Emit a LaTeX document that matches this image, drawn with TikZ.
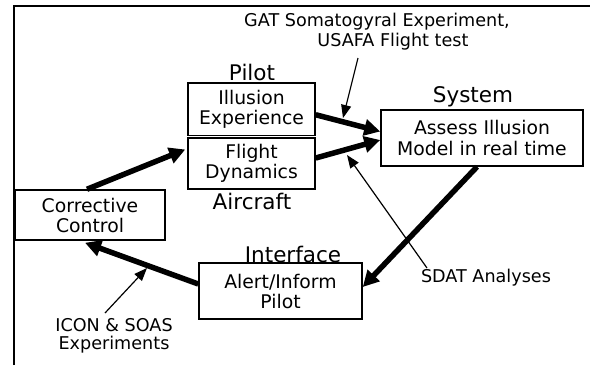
\documentclass[tikz,border=0pt]{standalone}
\usepackage{fontspec}
\setmainfont{DejaVu Sans}
\usetikzlibrary{arrows.meta}
\begin{document}
\begin{tikzpicture}[x=1pt,y=-1pt,
  blk/.style={draw,line width=1.5pt,inner sep=0pt,align=center,
    font=\fontsize{18.8}{20}\selectfont},
  lbl/.style={inner sep=0pt,font=\fontsize{21.5}{22}\selectfont},
  note/.style={inner sep=0pt,align=center,font=\fontsize{17.6}{20}\selectfont},
  thick arrow/.style={line width=5.5pt,-{Triangle[length=16pt,width=16pt]}},
  thin arrow/.style={line width=1.2pt,-{Triangle[length=13pt,width=10pt]}}]
\useasboundingbox (0,0) rectangle (590,365);
\draw[line width=1.5pt] (14,365) -- (14,6) -- (590,6);

% boxes
\node[blk,minimum width=127pt,minimum height=52.5pt] (illu) at (251.5,109.25) {Illusion\\Experience};
\node[blk,minimum width=127pt,minimum height=51pt] (fd) at (251.5,163.5) {Flight\\Dynamics};
\node[blk,minimum width=202pt,minimum height=56pt,font=\fontsize{18.8}{21}\selectfont] (sys) at (482,138) {Assess Illusion\\Model in real time};
\node[blk,minimum width=163pt,minimum height=56pt] (alert) at (280.5,291) {Alert/Inform\\Pilot};
\node[blk,minimum width=150pt,minimum height=50pt] (corr) at (90,215) {Corrective\\Control};

% labels
\node[lbl] (lpilot) at (252,72) {Pilot};
\node[lbl] (lair) at (252,201) {Aircraft};
\node[lbl] (lsys) at (473,97) {System};
\node[lbl] (lint) at (293,254) {Interface};

% notes
\node[note] (gatA) at (377,22) {GAT Somatogyral Experiment,};
\node[note] (gatB) at (393,42) {USAFA Flight test};
\node[note] (sdat) at (486,278) {SDAT Analyses};
\node[note,font=\fontsize{17.6}{18.5}\selectfont] (icon) at (114,336) {ICON \& SOAS\\Experiments};

% thick connectors
\draw[thick arrow] ([yshift=-5.5pt]illu.east) -- ([yshift=6.5pt]sys.west);
\draw[thick arrow] ([yshift=5.5pt]fd.east) -- ([yshift=-2pt]sys.west);
\draw[thick arrow] ([xshift=-5pt]sys.south) -- ([yshift=4pt]alert.east);
\draw[thick arrow] ([yshift=7pt]alert.west) -- ([xshift=-5pt,yshift=-2pt]corr.south);
\draw[thick arrow] ([xshift=-3pt]corr.north) -- ([xshift=-2pt,yshift=14pt]fd.west);

% thin connectors
\coordinate (gs) at (358,58);
\coordinate (gt) at (343,118);
\coordinate (ss) at (427,268);
\coordinate (st) at (347,155);
\coordinate (is) at (105,313);
\coordinate (it) at (147,268);
\draw[thin arrow] (gs) -- (gt);
\draw[thin arrow] (ss) -- (st);
\draw[thin arrow] (is) -- (it);
\end{tikzpicture}
\end{document}
